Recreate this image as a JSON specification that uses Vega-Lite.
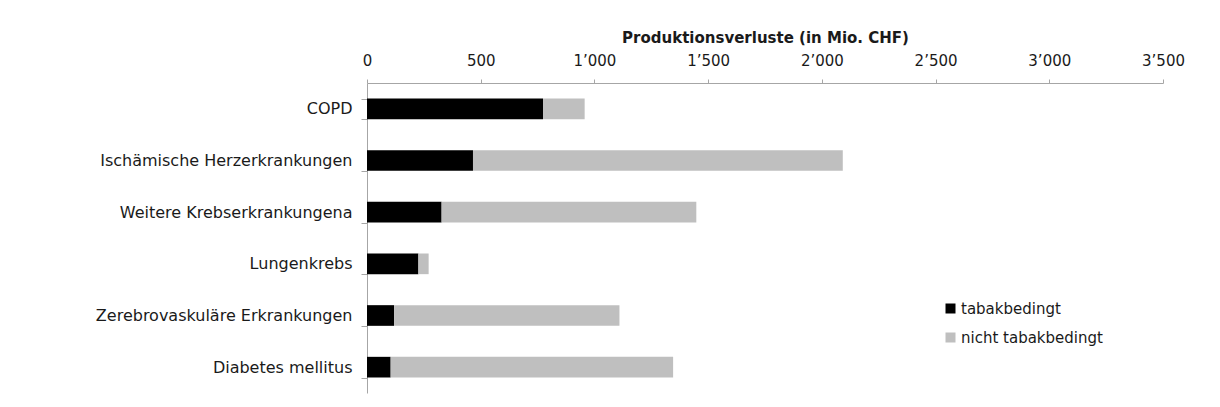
{
  "$schema": "https://vega.github.io/schema/vega-lite/v6.json",
  "width": 796,
  "height": 310,
  "autosize": {"type": "none"},
  "padding": {"left": 367, "top": 83, "right": 57, "bottom": 14},
  "background": "white",
  "config": {
    "view": {"stroke": null},
    "font": "DejaVu Sans"
  },
  "data": {
    "values": [
      {"krankheit": "COPD", "typ": "tabakbedingt", "o": 1, "wert": 774},
      {"krankheit": "COPD", "typ": "nicht tabakbedingt", "o": 2, "wert": 183},
      {"krankheit": "Ischämische Herzerkrankungen", "typ": "tabakbedingt", "o": 1, "wert": 466},
      {"krankheit": "Ischämische Herzerkrankungen", "typ": "nicht tabakbedingt", "o": 2, "wert": 1626},
      {"krankheit": "Weitere Krebserkrankungena", "typ": "tabakbedingt", "o": 1, "wert": 328},
      {"krankheit": "Weitere Krebserkrankungena", "typ": "nicht tabakbedingt", "o": 2, "wert": 1120},
      {"krankheit": "Lungenkrebs", "typ": "tabakbedingt", "o": 1, "wert": 226},
      {"krankheit": "Lungenkrebs", "typ": "nicht tabakbedingt", "o": 2, "wert": 45},
      {"krankheit": "Zerebrovaskuläre Erkrankungen", "typ": "tabakbedingt", "o": 1, "wert": 119},
      {"krankheit": "Zerebrovaskuläre Erkrankungen", "typ": "nicht tabakbedingt", "o": 2, "wert": 991},
      {"krankheit": "Diabetes mellitus", "typ": "tabakbedingt", "o": 1, "wert": 104},
      {"krankheit": "Diabetes mellitus", "typ": "nicht tabakbedingt", "o": 2, "wert": 1242}
    ]
  },
  "mark": {"type": "bar"},
  "encoding": {
    "y": {
      "field": "krankheit",
      "type": "nominal",
      "sort": ["COPD", "Ischämische Herzerkrankungen", "Weitere Krebserkrankungena", "Lungenkrebs", "Zerebrovaskuläre Erkrankungen", "Diabetes mellitus"],
      "scale": {"paddingInner": 0.6, "paddingOuter": 0.3},
      "axis": {
        "title": null,
        "tickBand": "extent",
        "tickSize": 6,
        "labelPadding": 9,
        "labelFontSize": 16,
        "labelLimit": 400,
        "labelColor": "#1a1a1a",
        "domainColor": "#a6a6a6",
        "tickColor": "#a6a6a6",
        "grid": false
      }
    },
    "x": {
      "field": "wert",
      "type": "quantitative",
      "stack": "zero",
      "scale": {"domain": [0, 3500], "nice": false},
      "axis": {
        "orient": "top",
        "title": "Produktionsverluste (in Mio. CHF)",
        "titleFontSize": 15,
        "titleFontWeight": "bold",
        "titleColor": "#1a1a1a",
        "titlePadding": 8,
        "values": [0, 500, 1000, 1500, 2000, 2500, 3000, 3500],
        "labelExpr": "replace(format(datum.value, ','), ',', '’')",
        "labelFontSize": 15,
        "labelColor": "#1a1a1a",
        "labelPadding": 11,
        "tickSize": 4,
        "tickColor": "#a6a6a6",
        "domainColor": "#a6a6a6",
        "grid": false,
        "labelFlush": false
      }
    },
    "color": {
      "field": "typ",
      "type": "nominal",
      "scale": {"domain": ["tabakbedingt", "nicht tabakbedingt"], "range": ["#000000", "#bfbfbf"]},
      "legend": {
        "title": null,
        "orient": "none",
        "legendX": 576,
        "legendY": 218,
        "symbolType": "square",
        "symbolSize": 100,
        "symbolStrokeWidth": 0,
        "labelFontSize": 15,
        "labelColor": "#1a1a1a",
        "labelOffset": 3,
        "rowPadding": 13
      }
    },
    "order": {"field": "o", "type": "quantitative"}
  }
}
